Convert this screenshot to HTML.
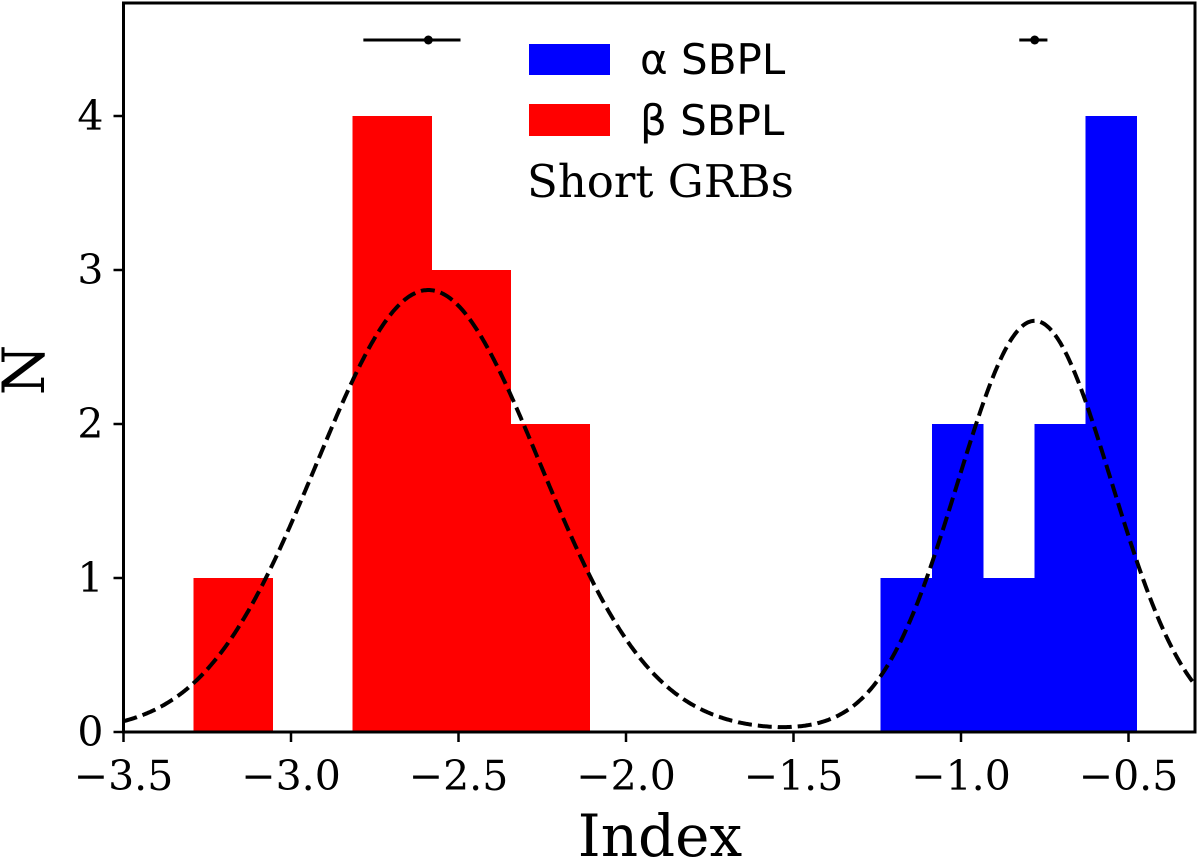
<!DOCTYPE html>
<html><head><meta charset="utf-8"><style>
html,body{margin:0;padding:0;background:#fff;}
svg{display:block;}
.tick{font-family:"DejaVu Serif","Liberation Serif",serif;font-size:41px;fill:#000;}
</style></head><body>
<svg id="chart" width="1200" height="863" xmlns="http://www.w3.org/2000/svg"></svg>
<script>
const betaEdges=[-3.291,-3.055,-2.817,-2.581,-2.345,-2.109];
const betaCounts=[1,0,4,3,2];
const alphaEdges=[-1.240,-1.087,-0.934,-0.781,-0.628,-0.476];
const alphaCounts=[1,2,1,2,4];
const betaFit=[2.87,-2.59,0.334];
const alphaFit=[2.67,-0.78,0.23];
const betaErr=[-2.59,-2.784,-2.494];
const alphaErr=[-0.78,-0.826,-0.742];
const xTicks=[-3.5,-3.0,-2.5,-2.0,-1.5,-1.0,-0.5];
const xTickLabels=["\u22123.5","\u22123.0","\u22122.5","\u22122.0","\u22121.5","\u22121.0","\u22120.5"];
const yTicks=[0,1,2,3,4];
const yTickLabels=["0","1","2","3","4"];

const NS="http://www.w3.org/2000/svg";
const svg=document.getElementById('chart');
const L=123.5,R=1195,T=3,B=732;
const xMin=-3.5;
const X=v=>L+(v-xMin)*335;
const Y=v=>B-v*154;
function el(tag,attrs,parent){const e=document.createElementNS(NS,tag);for(const k in attrs)e.setAttribute(k,attrs[k]);(parent||svg).appendChild(e);return e;}

function hist(edges,counts,color,name){
  counts.forEach((c,i)=>{
    if(c<=0)return;
    const r=el('rect',{x:X(edges[i]),y:Y(c),width:X(edges[i+1])-X(edges[i])+0.6,height:Y(0)-Y(c),fill:color,'shape-rendering':'crispEdges'});
    
    
  });
}
hist(betaEdges,betaCounts,'#ff0000','beta');
hist(alphaEdges,alphaCounts,'#0000ff','alpha');

let d='';
for(let px=L;px<=R;px+=1){
  const v=xMin+(px-L)/335;
  const g=(p)=>p[0]*Math.exp(-Math.pow(v-p[1],2)/(2*p[2]*p[2]));
  const y=g(betaFit)+g(alphaFit);
  d+=(px===L?'M':'L')+px.toFixed(1)+','+Y(y).toFixed(1);
}
const fit=el('path',{d:d,fill:'none',stroke:'#000','stroke-width':4,'stroke-dasharray':'14,6'});



function errbar(e,name){
  const g=el('g',{});
  
  
  el('line',{x1:X(e[1]),x2:X(e[2]),y1:40,y2:40,stroke:'#000','stroke-width':3},g);
  el('circle',{cx:X(e[0]),cy:40,r:4.5,fill:'#000'},g);
}
errbar(betaErr,'beta-mean-errorbar');
errbar(alphaErr,'alpha-mean-errorbar');

const frame=el('rect',{x:L,y:T,width:R-L,height:B-T,fill:'none',stroke:'#000','stroke-width':3});



xTicks.forEach((t,i)=>{
  const x=X(t);
  el('line',{x1:x,x2:x,y1:B,y2:B+10,stroke:'#000','stroke-width':2.5});
  const tx=el('text',{x:x,y:B+58,'text-anchor':'middle',class:'tick'});
  tx.textContent=xTickLabels[i];
  
  
});
yTicks.forEach((t,i)=>{
  const y=Y(t);
  el('line',{x1:L-10,x2:L,y1:y,y2:y,stroke:'#000','stroke-width':2.5});
  const tx=el('text',{x:L-20,y:y+14,'text-anchor':'end',class:'tick'});
  tx.textContent=yTickLabels[i];
  
  
});

const xl=el('text',{x:660,y:856,'text-anchor':'middle','font-family':'DejaVu Serif, Liberation Serif, serif','font-size':58});
xl.textContent='Index';


const yl=el('text',{x:0,y:0,'text-anchor':'middle','font-family':'DejaVu Serif, Liberation Serif, serif','font-size':58,transform:'translate(44,370) rotate(-90)'});
yl.textContent='N';



const lg=el('g',{});


el('rect',{x:529,y:44,width:81,height:31,fill:'#0000ff'},lg);
const t1=el('text',{x:640,y:74,'font-family':'DejaVu Sans, Liberation Sans, sans-serif','font-size':42},lg);
t1.textContent='\u03B1 SBPL';


el('rect',{x:529,y:104,width:81,height:32,fill:'#ff0000'},lg);
const t2=el('text',{x:640,y:135,'font-family':'DejaVu Sans, Liberation Sans, sans-serif','font-size':42},lg);
t2.textContent='\u03B2 SBPL';


const t3=el('text',{x:527,y:197,'font-family':'DejaVu Serif, Liberation Serif, serif','font-size':45},lg);
t3.textContent='Short GRBs';


</script>
</body></html>
